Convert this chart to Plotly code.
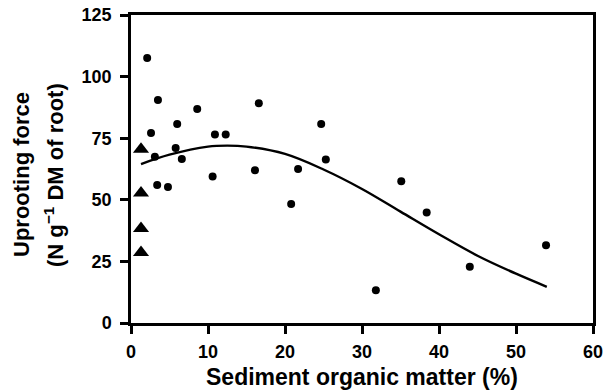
import plotly.graph_objects as go

# Circles: sediment organic matter (%) vs uprooting force
circle_x = [2.1, 3.5, 2.6, 3.1, 3.4, 4.8, 6.0, 5.8, 6.6, 8.6, 10.6, 10.9, 12.3,
            16.1, 16.6, 20.8, 21.7, 24.7, 25.3, 31.8, 35.1, 38.4, 44.0, 53.9]
circle_y = [107.5, 90.5, 77.1, 67.5, 56.0, 55.2, 80.8, 71.0, 66.6, 86.9, 59.5, 76.5, 76.5,
            62.0, 89.2, 48.3, 62.5, 80.8, 66.4, 13.3, 57.5, 44.8, 22.8, 31.6]

# Triangles
tri_x = [1.3, 1.3, 1.3, 1.3]
tri_y = [70.5, 52.8, 38.4, 28.6]

# Fitted curve
curve_x = [1.3, 5, 10, 12.5, 15, 20, 25, 30, 35, 40, 45, 50, 54]
curve_y = [64.5, 68.3, 71.6, 72.0, 71.6, 68.6, 62.3, 54.4, 45.2, 36.0, 27.3, 20.0, 14.7]

x_ticks = [0, 10, 20, 30, 40, 50, 60]
y_ticks = [0, 25, 50, 75, 100, 125]

x_title = "Sediment organic matter (%)"
y_title_1 = "Uprooting force"
y_title_2 = "(N g<sup>−1</sup> DM of root)"

FONT = "Liberation Sans, Arial, sans-serif"

fig = go.Figure()
fig.add_trace(go.Scatter(x=curve_x, y=curve_y, mode="lines",
                         line=dict(color="black", width=2.4, shape="spline"),
                         hoverinfo="skip", showlegend=False))
fig.add_trace(go.Scatter(x=circle_x, y=circle_y, mode="markers",
                         marker=dict(symbol="circle", size=8, color="black"), showlegend=False))
fig.add_trace(go.Scatter(x=tri_x, y=tri_y, mode="markers",
                         marker=dict(symbol="triangle-up", size=14, color="black"), showlegend=False))

axis_common = dict(showgrid=False, zeroline=False, showline=True, linecolor="black", linewidth=2.5,
                   mirror=True, ticks="outside", ticklen=8, tickwidth=2.5, tickcolor="black",
                   automargin=False,
                   tickfont=dict(family=FONT, size=18, color="black"))

fig.update_xaxes(range=[0, 60], tickvals=x_ticks, ticktext=["<b>%d</b>" % v for v in x_ticks],
                 ticklabelstandoff=3, **axis_common)
fig.update_yaxes(range=[0, 125], tickvals=y_ticks, ticktext=["<b>%d</b>" % v for v in y_ticks],
                 ticklabelstandoff=5, **axis_common)

fig.add_annotation(text="<b>%s</b>" % x_title, xref="paper", yref="paper", x=0.5, y=0,
                   yanchor="middle", yshift=-54, showarrow=False,
                   font=dict(family=FONT, size=23, color="black"))
fig.add_annotation(text="<b>%s</b>" % y_title_1, xref="paper", yref="paper", x=0, y=0.5,
                   xanchor="center", xshift=-110, yshift=-6, showarrow=False, textangle=-90,
                   font=dict(family=FONT, size=22, color="black"))
fig.add_annotation(text="<b>%s</b>" % y_title_2, xref="paper", yref="paper", x=0, y=0.5,
                   xanchor="center", xshift=-77, yshift=-6, showarrow=False, textangle=-90,
                   font=dict(family=FONT, size=22, color="black"))

fig.update_layout(width=611, height=390, margin=dict(l=131, r=18, t=15, b=67),
                  paper_bgcolor="white", plot_bgcolor="white", showlegend=False)

fig.write_html("out.html", config={"displayModeBar": False},
               post_script="document.body.style.margin='0';document.body.style.padding='0';")
